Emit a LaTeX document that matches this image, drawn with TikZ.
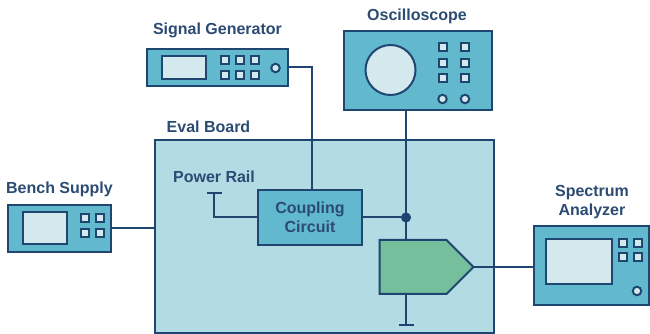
\documentclass[tikz,border=0pt]{standalone}
\usepackage{fontspec}
\setmainfont{Liberation Sans}
\definecolor{wire}{HTML}{1F4670}
\definecolor{labeltext}{HTML}{2B4B72}
\definecolor{teal}{HTML}{62B8CC}
\definecolor{screen}{HTML}{D3E9EE}
\definecolor{boardfill}{HTML}{B3DBE4}
\definecolor{ampfill}{HTML}{76BF9D}
\begin{document}
\begin{tikzpicture}[line width=0.04cm,draw=wire]
	\useasboundingbox (0,0) rectangle (13,6.68);
	
	\tikzstyle{title}=[text=labeltext,font=\fontsize{9.1}{10.8}\selectfont\bfseries,align=center,inner sep=0pt]
	\tikzstyle{case}=[draw=wire,fill=teal,shape=rectangle,inner sep=0pt]
	\tikzstyle{display}=[draw=wire,fill=screen,shape=rectangle,inner sep=0pt]
	\tikzstyle{key}=[draw=wire,fill=screen,shape=rectangle,inner sep=0pt,minimum size=0.16cm]
	\tikzstyle{knob}=[draw=wire,fill=screen,shape=circle,inner sep=0pt,minimum size=0.17cm]
	
	\node[draw=wire,fill=boardfill,inner sep=0pt,minimum width=6.78cm,minimum height=3.86cm](board) at (6.49,1.95){};
	
	\node[case,minimum width=2.82cm,minimum height=0.74cm](sigGen) at (4.35,5.33){};
	\node[case,minimum width=2.96cm,minimum height=1.58cm](scope) at (8.36,5.27){};
	\node[case,minimum width=2.06cm,minimum height=0.94cm](bench) at (1.19,2.11){};
	\node[case,minimum width=2.30cm,minimum height=1.58cm](spectrum) at (11.83,1.37){};
	\node[case,text=labeltext,font=\fontsize{9.1}{10.8}\selectfont\bfseries,align=center,minimum width=2.08cm,minimum height=1.09cm](coupling) at (6.2,2.33){Coupling\\Circuit};
	
	\node[title](sigLabel) at (4.35,6.08){Signal Generator};
	\node[title](scopeLabel) at (8.34,6.36){Oscilloscope};
	\node[title](benchLabel) at (1.19,2.90){Bench Supply};
	\node[title](boardLabel) at (4.17,4.14){Eval Board};
	\node[title](railLabel) at (4.28,3.14){Power Rail};
	\node[title](spectrumLabel) at (11.84,2.64){Spectrum\\Analyzer};
	
	\node[display,minimum width=0.88cm,minimum height=0.46cm](sigScreen) at (3.68,5.33){};
	\node[display,shape=circle,minimum size=1cm](scopeScreen) at (7.81,5.28){};
	\node[display,minimum width=0.87cm,minimum height=0.64cm](benchScreen) at (0.895,2.11){};
	\node[display,minimum width=1.32cm,minimum height=0.89cm](spectrumScreen) at (11.58,1.45){};
	
	\foreach \x in {4.49,4.79,5.09}
		\foreach \y in {5.47,5.18}
			\node[key] at (\x,\y){};
	\foreach \x in {8.85,9.30}
		\foreach \y in {5.74,5.42,5.12}
			\node[key] at (\x,\y){};
	\foreach \x in {1.70,2.00}
		\foreach \y in {2.31,2.02}
			\node[key] at (\x,\y){};
	\foreach \x in {12.45,12.75}
		\foreach \y in {1.82,1.54}
			\node[key] at (\x,\y){};
	
	\node[knob](sigKnob) at (5.51,5.32){};
	\node[knob](scopeKnobL) at (8.85,4.70){};
	\node[knob](scopeKnobR) at (9.30,4.70){};
	\node[knob](spectrumKnob) at (12.74,0.86){};
	
	\coordinate(railTop) at (4.28,2.81);
	\coordinate(ampTop) at (8.12,1.88);
	\coordinate(ampTip) at (9.47,1.34);
	\coordinate(ampBottom) at (8.12,0.80);
	\coordinate(gnd) at (8.12,0.18);
	\node[draw=wire,fill=wire,shape=circle,inner sep=0pt,minimum size=0.16cm](junction) at (8.12,2.33){};
	
	\draw[wire] (sigGen.east) -| ([xshift=0.03cm]coupling.north);
	\draw[wire] (scope.south -| junction) -- (ampTop);
	\draw[wire] (bench.east) -- (bench.east -| board.west);
	\draw[wire] (coupling.east) -- (junction);
	\draw[wire] (coupling.west) -| (railTop);
	\draw[wire] ([xshift=-0.15cm]railTop) -- ([xshift=0.15cm]railTop);
	\draw[wire] (ampBottom) -- (gnd);
	\draw[wire] ([xshift=-0.15cm]gnd) -- ([xshift=0.15cm]gnd);
	\draw[wire] (ampTip) -- (ampTip -| spectrum.west);
	
	\draw[wire,fill=ampfill] (7.59,1.88) -- (ampTop) -- (8.93,1.88) -- (ampTip) -- (8.93,0.80) -- (ampBottom) -- (7.59,0.80) -- cycle;
	
\end{tikzpicture}
\end{document}
